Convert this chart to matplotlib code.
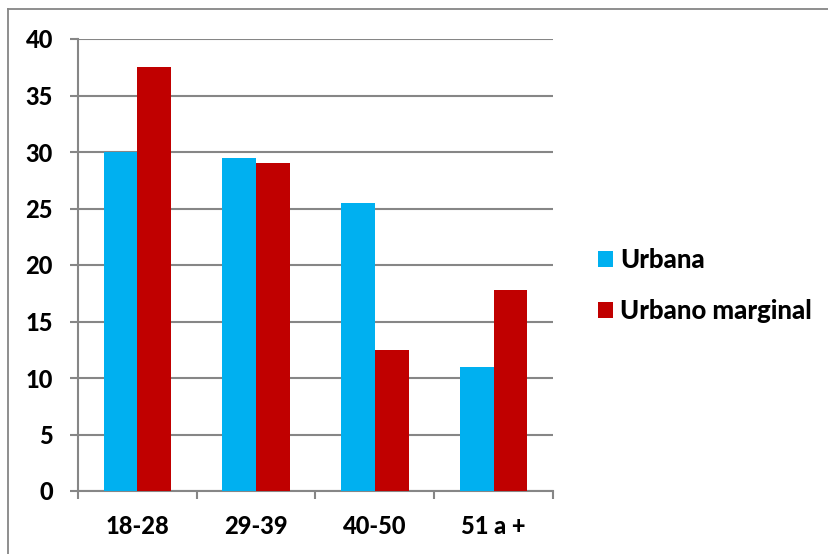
import numpy as np
import matplotlib.pyplot as plt
from matplotlib.lines import Line2D

# === DATA ===
categories = ['18-28', '29-39', '40-50', '51 a +']
urbana = [30, 29.5, 25.5, 11]
urbano_marginal = [37.5, 29, 12.5, 17.8]
series_names = ['Urbana', 'Urbano marginal']

blue = '#00B0F0'
red = '#C00000'
grid_gray = '#868686'

plt.rcParams['font.family'] = ['Lato', 'DejaVu Sans']

W, H = 829, 554
fig = plt.figure(figsize=(W / 100, H / 100), dpi=100)
ax = fig.add_axes([78 / W, 1 - 491 / H, (553 - 78) / W, (491 - 39) / H])

x = np.arange(len(categories))
w = 0.285
ax.bar(x - w / 2, urbana, w, color=blue, label=series_names[0], zorder=3)
ax.bar(x + w / 2, urbano_marginal, w, color=red, label=series_names[1], zorder=3)

ax.set_xlim(-0.5, len(categories) - 0.5)
ax.set_ylim(0, 40)
ax.set_yticks(range(0, 41, 5))
ax.yaxis.grid(True, color=grid_gray, linewidth=1.5, zorder=0)

# category labels centred, ticks at the category boundaries
ax.set_xticks(np.arange(-0.5, len(categories)))
ax.set_xticklabels([])
ax.set_xticks(x, minor=True)
ax.set_xticklabels(categories, minor=True, fontsize=17, fontweight='black')
ax.tick_params(axis='x', which='minor', length=0, pad=17)
ax.tick_params(axis='x', which='major', length=6, width=1.5, color=grid_gray, direction='out')
ax.tick_params(axis='y', length=6, width=1.5, color=grid_gray, direction='out', labelsize=17, pad=12)
for lab in ax.get_yticklabels():
    lab.set_fontweight('black')

for s in ['top', 'right']:
    ax.spines[s].set_visible(False)
for s in ['left', 'bottom']:
    ax.spines[s].set_color(grid_gray)
    ax.spines[s].set_linewidth(1.5)

leg = ax.legend(loc='center left', bbox_to_anchor=(1.073, 0.455), frameon=False,
                prop={'size': 18.5, 'weight': 'black'}, handlelength=0.58, handleheight=0.58,
                handletextpad=0.28, labelspacing=1.05, borderaxespad=0)

# outer chart border (only top and left edges fall inside the picture)
fig.add_artist(Line2D([8 / W, 1], [1 - 9 / H, 1 - 9 / H], transform=fig.transFigure,
                      color=grid_gray, linewidth=1.3))
fig.add_artist(Line2D([8 / W, 8 / W], [0, 1 - 9 / H], transform=fig.transFigure,
                      color=grid_gray, linewidth=1.3))

fig.savefig('out.png', dpi=100)
